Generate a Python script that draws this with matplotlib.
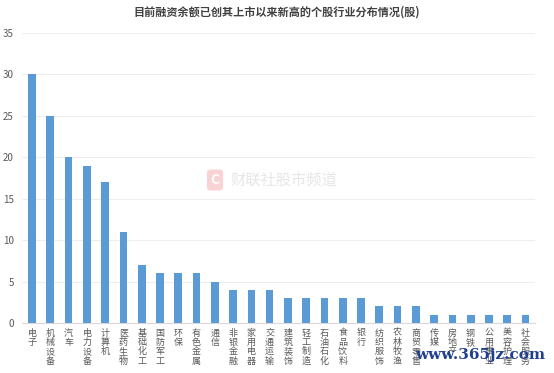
import matplotlib
matplotlib.use("Agg")
import matplotlib.pyplot as plt
from matplotlib.patches import FancyBboxPatch

plt.rcParams['font.family'] = ['Noto Sans CJK SC', 'DejaVu Sans']

categories = ["电子", "机械设备", "汽车", "电力设备", "计算机", "医药生物", "基础化工",
              "国防军工", "环保", "有色金属", "通信", "非银金融", "家用电器", "交通运输",
              "建筑装饰", "轻工制造", "石油石化", "食品饮料", "银行", "纺织服饰", "农林牧渔",
              "商贸零售", "传媒", "房地产", "钢铁", "公用事业", "美容护理", "社会服务"]
values = [30, 25, 20, 19, 17, 11, 7, 6, 6, 6, 5, 4, 4, 4, 3, 3, 3, 3, 3, 2, 2, 2,
          1, 1, 1, 1, 1, 1]
yticks = [0, 5, 10, 15, 20, 25, 30, 35]
title = "目前融资余额已创其上市以来新高的个股行业分布情况(股)"

fig = plt.figure(figsize=(5.54, 3.73), dpi=100)
ax = fig.add_axes([22/554, 1-323/373, (535-22)/554, (323-33)/373])

x = list(range(len(categories)))
ax.bar(x, values, width=0.42, color="#5B9BD5", zorder=3)
ax.set_xlim(-0.55, len(categories) - 0.48)
ax.set_ylim(0, 35)
ax.set_yticks(yticks)
ax.set_yticklabels([str(v) for v in yticks], fontsize=7, color="#595959")
ax.grid(axis="y", color="#eeeeee", linewidth=0.8, zorder=0)
for s in ["top", "right", "left"]:
    ax.spines[s].set_visible(False)
ax.spines["bottom"].set_color("#d9d9d9")
ax.tick_params(axis="y", length=0, pad=6)
ax.tick_params(axis="x", length=0, pad=4)
ax.set_xticks(x)
ax.set_xticklabels(["\n".join(c) for c in categories], fontsize=6.5, color="#595959",
                   linespacing=1.05, va="top")

fig.text(0.5, 1-12/373, title, ha="center", va="center", fontsize=8,
         fontweight="bold", color="#404040")

# watermarks
fig.text(215/554, 1-180/373, "C", ha="center", va="center", fontsize=10,
         fontweight="bold", color="white",
         bbox=dict(boxstyle="round,pad=0.25", fc="#f9d3d3", ec="none"))
fig.text(230/554, 1-180/373, "财联社股市频道", ha="left", va="center", fontsize=11,
         color="#e6e6e6")
fig.text(545/554, 1-355/373, "www.365jz.com", ha="right", va="center", fontsize=11,
         fontweight="bold", color="#1f3f8f", family=["DejaVu Serif"])

fig.savefig("out.png", dpi=100)
